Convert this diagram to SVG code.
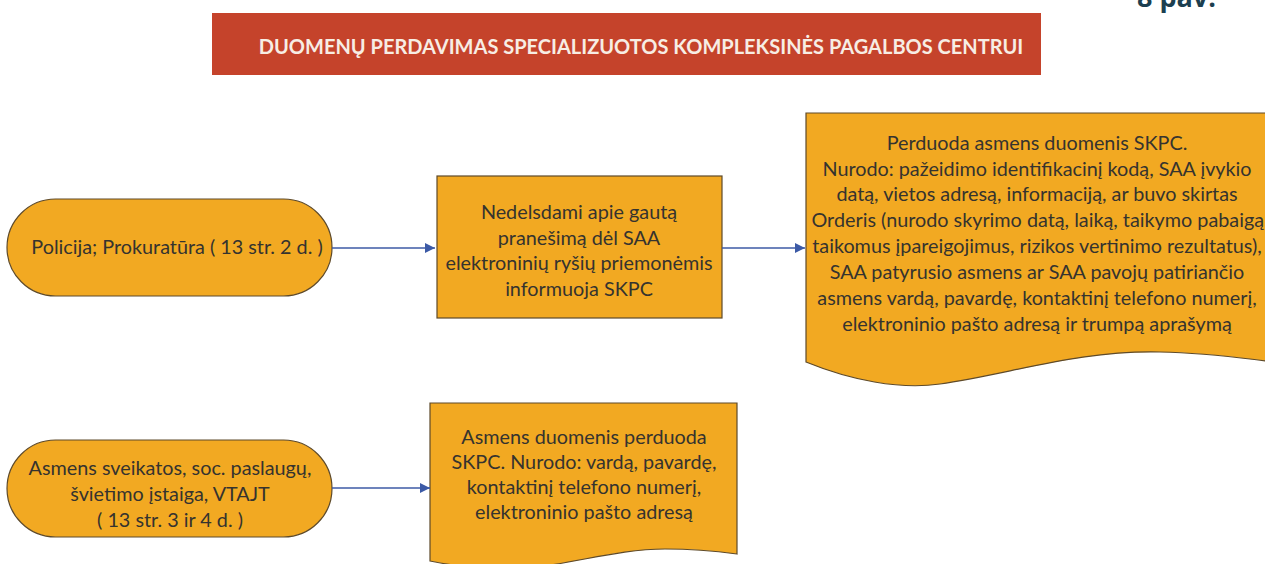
<svg xmlns="http://www.w3.org/2000/svg" width="1265" height="564" viewBox="0 0 1265 564">
<style>
.shape{fill:#f2a922;stroke:#5e4a2a;stroke-width:1.2}
.t{font-family:Lato,"Open Sans","DejaVu Sans",sans-serif;font-size:19.8px;fill:#35332f;text-anchor:middle}
.conn{stroke:#3c5aa6;stroke-width:1.6;fill:none}
</style>
<defs>
<marker id="ah" viewBox="0 0 10 10" refX="10" refY="5" markerWidth="10" markerHeight="10" markerUnits="userSpaceOnUse" orient="auto">
<path d="M0,0 L10,5 L0,10 Z" fill="#3c5aa6"/>
</marker>
</defs>
<rect width="1265" height="564" fill="#ffffff"/>
<text x="1137" y="7" font-family="'Open Sans',Lato,sans-serif" font-weight="bold" font-size="27" fill="#1c3f50">8 pav.</text>
<g id="title">
<rect x="212" y="13" width="829" height="62" fill="#c5432b"/>
<text x="641" y="54" font-family="Lato,'Open Sans',sans-serif" font-weight="bold" font-size="20" fill="#f7ede4" text-anchor="middle">DUOMENŲ PERDAVIMAS SPECIALIZUOTOS KOMPLEKSINĖS PAGALBOS CENTRUI</text>
</g>
<g id="node-policija">
<rect class="shape" x="7" y="199" width="325" height="97" rx="48.5" ry="48.5"/>
<text class="t" x="177" y="254">Policija; Prokuratūra ( 13 str. 2 d. )</text>
</g>
<g id="node-nedelsdami">
<rect class="shape" x="437" y="176" width="285" height="142"/>
<text class="t" x="579" y="219">Nedelsdami apie gautą</text>
<text class="t" x="579" y="245">pranešimą dėl SAA</text>
<text class="t" x="579" y="270">elektroninių ryšių priemonėmis</text>
<text class="t" x="579" y="296">informuoja SKPC</text>
</g>
<g id="node-perduoda">
<path class="shape" d="M806,113 H1275 V362 C1240,358 1210,353 1160,352 C1080,350 1010,374 940,384 C900,390 850,380 806,362 Z"/>
<text class="t" x="1037" y="150">Perduoda asmens duomenis SKPC.</text>
<text class="t" x="1037" y="176">Nurodo: pažeidimo identifikacinį kodą, SAA įvykio</text>
<text class="t" x="1037" y="201">datą, vietos adresą, informaciją, ar buvo skirtas</text>
<text class="t" x="1040" y="227">Orderis (nurodo skyrimo datą, laiką, taikymo pabaigą,</text>
<text class="t" x="1037" y="253">taikomus įpareigojimus, rizikos vertinimo rezultatus),</text>
<text class="t" x="1037" y="279">SAA patyrusio asmens ar SAA pavojų patiriančio</text>
<text class="t" x="1037" y="305">asmens vardą, pavardę, kontaktinį telefono numerį,</text>
<text class="t" x="1037" y="331">elektroninio pašto adresą ir trumpą aprašymą</text>
</g>
<g id="node-asmens-sveikatos">
<rect class="shape" x="7" y="440" width="325" height="97" rx="48.5" ry="48.5"/>
<text class="t" x="170" y="475">Asmens sveikatos, soc. paslaugų,</text>
<text class="t" x="170" y="501">švietimo įstaiga, VTAJT</text>
<text class="t" x="170" y="527">( 13 str. 3 ir 4 d. )</text>
</g>
<g id="node-asmens-duomenis">
<path class="shape" d="M430,403 H737 V554 C715,551 695,549 665,549 C620,549 580,562 530,568 C495,571 465,568 430,561 Z"/>
<text class="t" x="584" y="444">Asmens duomenis perduoda</text>
<text class="t" x="584" y="469">SKPC. Nurodo: vardą, pavardę,</text>
<text class="t" x="584" y="494">kontaktinį telefono numerį,</text>
<text class="t" x="584" y="519">elektroninio pašto adresą</text>
</g>
<g id="connectors">
<line class="conn" x1="332" y1="248" x2="435" y2="248" marker-end="url(#ah)"/>
<line class="conn" x1="722" y1="248" x2="805" y2="248" marker-end="url(#ah)"/>
<line class="conn" x1="332" y1="488" x2="430" y2="488" marker-end="url(#ah)"/>
</g>
</svg>
